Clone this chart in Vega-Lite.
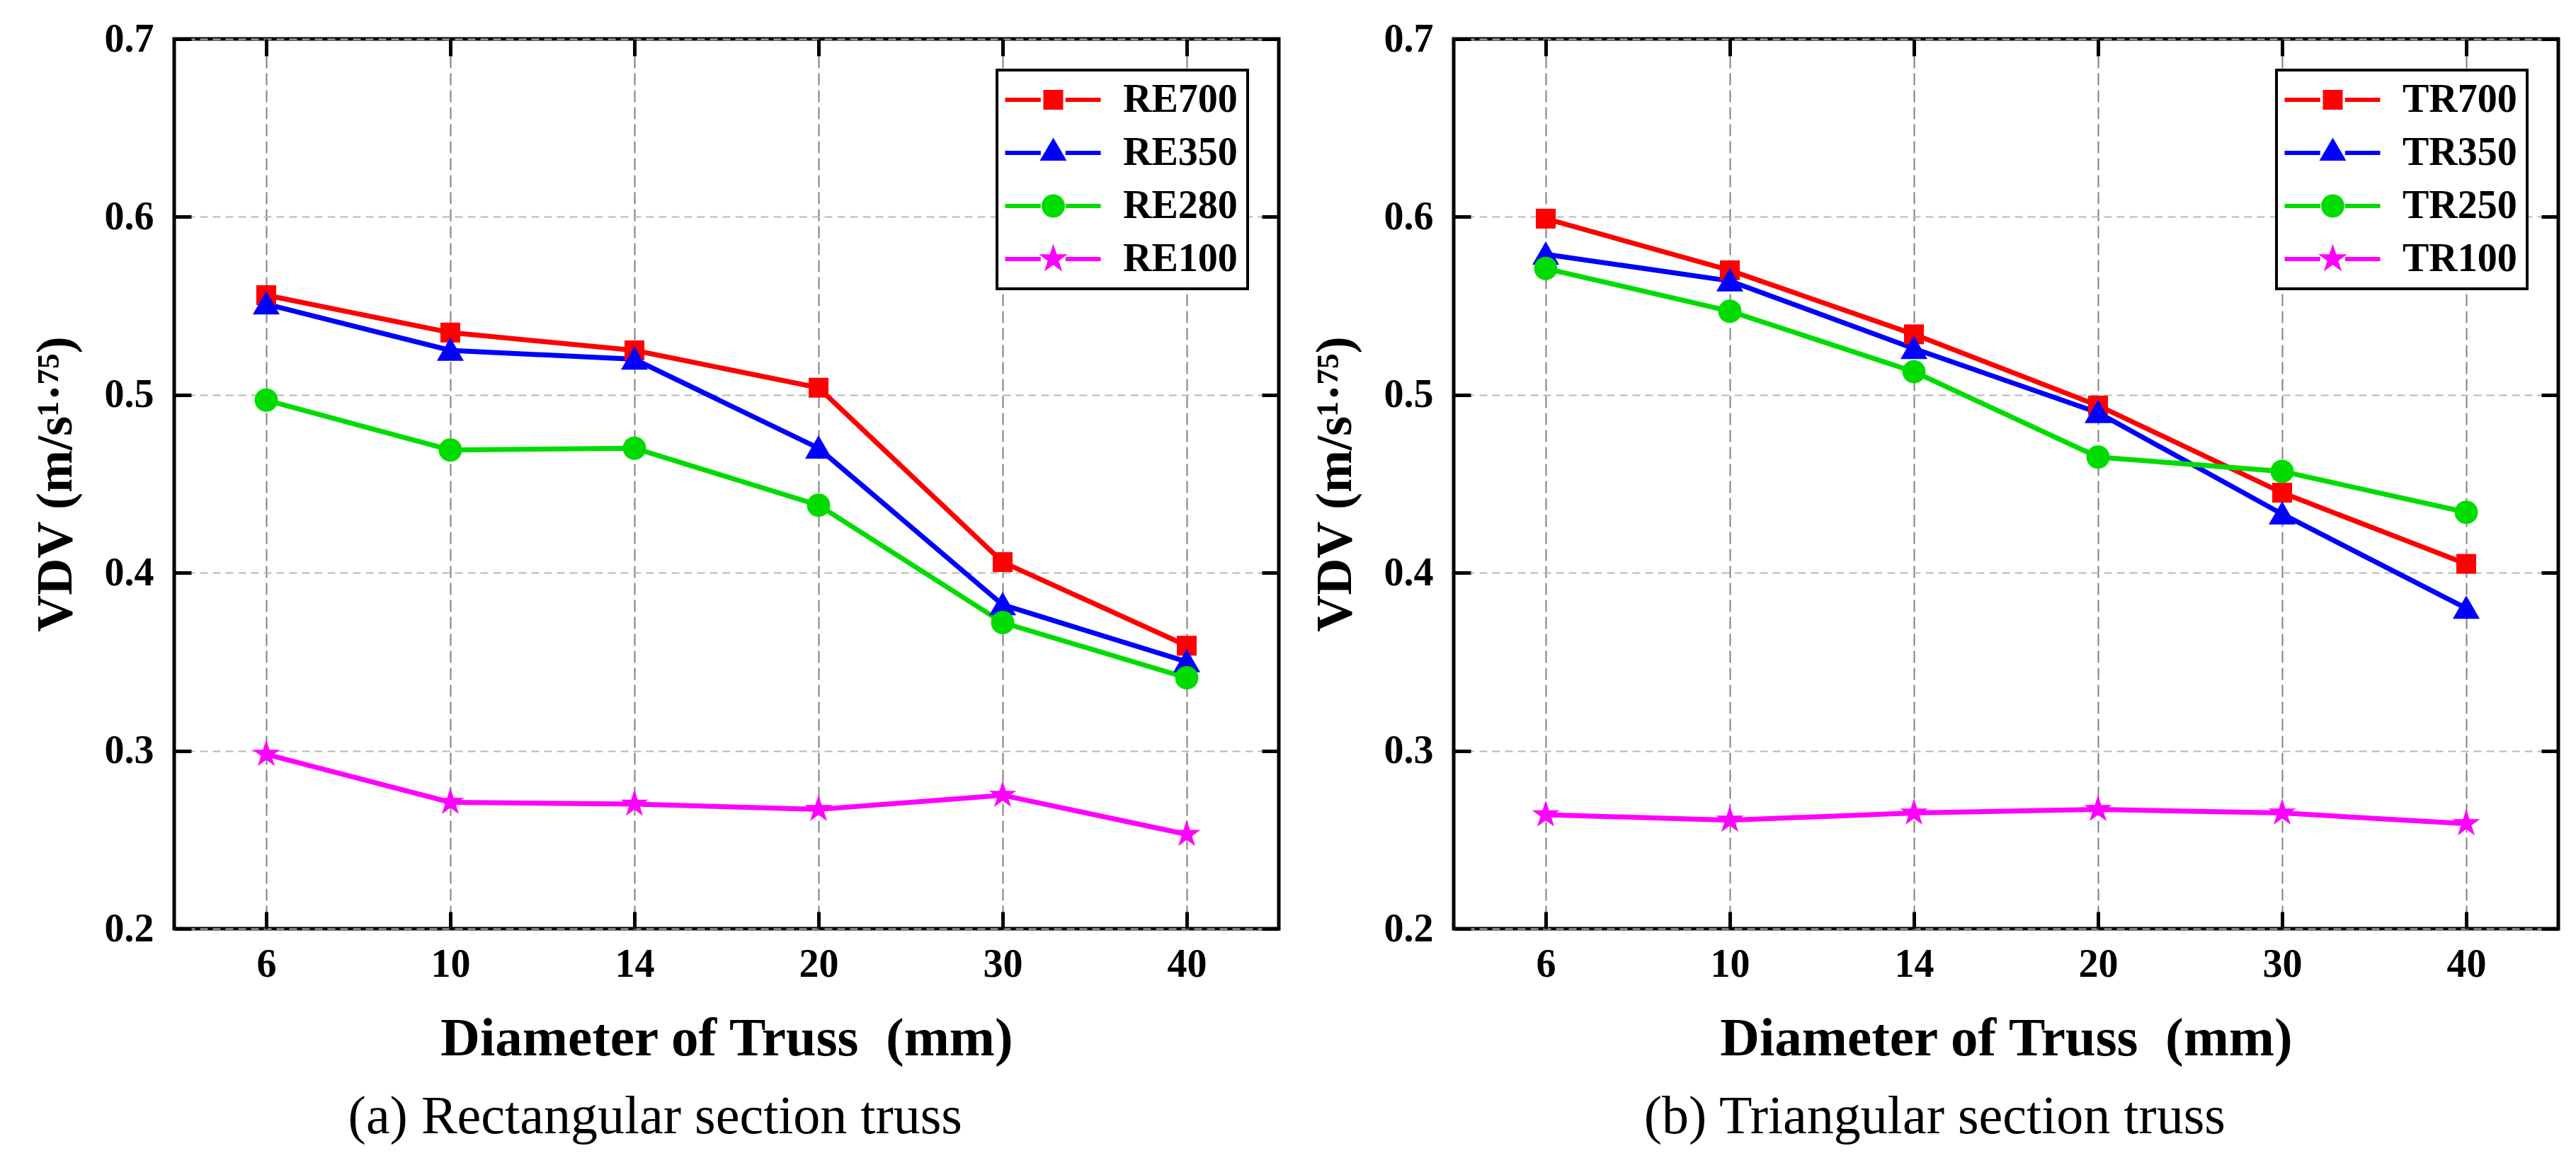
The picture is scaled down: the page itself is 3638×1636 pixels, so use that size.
{
  "$schema": "https://vega.github.io/schema/vega-lite/v6.json",
  "background": "white",
  "padding": {"left": 39, "top": 24, "right": 10, "bottom": 10},
  "spacing": 35,
  "resolve": {"scale": {"color": "independent", "shape": "independent"}, "legend": {"color": "independent", "shape": "independent"}},
  "config": {
    "font": "Liberation Serif",
    "view": {"stroke": "black", "strokeWidth": 5},
    "axis": {
      "domain": false,
      "ticks": true,
      "tickSize": -24,
      "tickWidth": 5,
      "tickColor": "black",
      "labelFont": "Liberation Serif",
      "labelFontSize": 56,
      "labelFontWeight": "bold",
      "labelColor": "black",
      "labelFlush": false,
      "labelOverlap": false,
      "labelBound": false,
      "titleFont": "Liberation Serif",
      "titleFontSize": 77,
      "titleFontWeight": "bold",
      "titleColor": "black"
    },
    "legend": {
      "title": null,
      "orient": "top-right",
      "offset": 44,
      "labelFont": "Liberation Serif",
      "labelFontSize": 56,
      "labelFontWeight": "bold",
      "labelColor": "black",
      "labelLimit": 400,
      "symbolSize": 2025,
      "labelOffset": 108,
      "padding": 14,
      "rowPadding": 19,
      "strokeColor": "black",
      "strokeWidth": 4,
      "fillColor": "white",
      "symbolStrokeWidth": 0,
      "symbolOpacity": 1
    },
    "title": {
      "font": "Liberation Serif",
      "fontSize": 76,
      "fontWeight": "normal",
      "color": "black",
      "orient": "bottom",
      "anchor": "middle",
      "frame": "bounds",
      "offset": 36
    }
  },
  "hconcat": [
    {
      "width": 1560,
      "height": 1257,
      "title": {"text": "(a) Rectangular section truss", "frame": "bounds"},
      "data": {"values": [
        {"d": 6, "v": 0.556, "s": "RE700"},
        {"d": 10, "v": 0.535, "s": "RE700"},
        {"d": 14, "v": 0.525, "s": "RE700"},
        {"d": 20, "v": 0.504, "s": "RE700"},
        {"d": 30, "v": 0.406, "s": "RE700"},
        {"d": 40, "v": 0.359, "s": "RE700"},
        {"d": 6, "v": 0.551, "s": "RE350"},
        {"d": 10, "v": 0.525, "s": "RE350"},
        {"d": 14, "v": 0.520, "s": "RE350"},
        {"d": 20, "v": 0.470, "s": "RE350"},
        {"d": 30, "v": 0.382, "s": "RE350"},
        {"d": 40, "v": 0.350, "s": "RE350"},
        {"d": 6, "v": 0.497, "s": "RE280"},
        {"d": 10, "v": 0.469, "s": "RE280"},
        {"d": 14, "v": 0.470, "s": "RE280"},
        {"d": 20, "v": 0.438, "s": "RE280"},
        {"d": 30, "v": 0.372, "s": "RE280"},
        {"d": 40, "v": 0.341, "s": "RE280"},
        {"d": 6, "v": 0.298, "s": "RE100"},
        {"d": 10, "v": 0.271, "s": "RE100"},
        {"d": 14, "v": 0.270, "s": "RE100"},
        {"d": 20, "v": 0.267, "s": "RE100"},
        {"d": 30, "v": 0.275, "s": "RE100"},
        {"d": 40, "v": 0.253, "s": "RE100"}
      ]},
      "layer": [
        {
          "mark": {"type": "line", "strokeWidth": 7},
          "encoding": {
            "x": {"field": "d", "type": "ordinal",
              "scale": {"type": "point", "padding": 0.5, "domain": [6, 10, 14, 20, 30, 40]},
              "axis": {"title": "Diameter of Truss \u00a0(mm)", "labelAngle": 0, "grid": true, "gridColor": "#808080", "gridDash": [17, 7], "gridWidth": 2, "labelPadding": 47, "titlePadding": 39}},
            "y": {"field": "v", "type": "quantitative",
              "scale": {"domain": [0.2, 0.7], "nice": false, "zero": false},
              "axis": {"title": "VDV (m/s¹·⁷⁵)", "titleFontSize": 72, "values": [0.2, 0.3, 0.4, 0.5, 0.6, 0.7], "format": ".1f", "grid": true, "gridColor": "#b8b8b8", "gridDash": [11, 7], "gridWidth": 2, "labelPadding": 53, "titlePadding": 32}},
            "color": {"field": "s", "type": "nominal",
              "scale": {"domain": ["RE700", "RE350", "RE280", "RE100"], "range": ["#ff0000", "#0000ff", "#00dc00", "#ff00ff"]}}
          }
        },
        {
          "mark": {"type": "point", "filled": true, "opacity": 1, "size": 1849},
          "encoding": {
            "x": {"field": "d", "type": "ordinal", "axis": null},
            "y": {"field": "v", "type": "quantitative", "axis": null},
            "color": {"field": "s", "type": "nominal",
              "legend": {"encode": {"symbols": {"update": {"shape": {"signal": "datum.index === 0 ? 'M-1.356,-0.133H0.88V0.133H-1.356ZM2.436,-0.133H4.644V0.133H2.436ZM1.045,-0.622H2.289V0.622H1.045Z' : datum.index === 1 ? 'M-1.356,-0.133H0.88V0.133H-1.356ZM2.436,-0.133H4.644V0.133H2.436ZM1.667,-0.96L2.511,0.49L0.823,0.49Z' : datum.index === 2 ? 'M-1.356,-0.133H0.88V0.133H-1.356ZM2.436,-0.133H4.644V0.133H2.436ZM0.934,0A0.733,0.733 0 1,0 2.4,0A0.733,0.733 0 1,0 0.934,0Z' : 'M-1.356,-0.133H0.88V0.133H-1.356ZM2.436,-0.133H4.644V0.133H2.436ZM1.667,-0.956L1.882,-0.295L2.576,-0.295L2.014,0.113L2.229,0.773L1.667,0.365L1.105,0.773L1.32,0.113L0.758,-0.295L1.452,-0.295Z'"}, "size": {"value": 2025}}}}}},
            "shape": {"field": "s", "type": "nominal", "legend": null,
              "scale": {"domain": ["RE100", "RE280", "RE350", "RE700"], "range": ["M0,-0.95L0.214,-0.294L0.903,-0.294L0.345,0.112L0.559,0.769L0,0.363L-0.559,0.769L-0.345,0.112L-0.903,-0.294L-0.214,-0.294Z", "M-0.767,0A0.767,0.767 0 1,0 0.767,0A0.767,0.767 0 1,0 -0.767,0Z", "M0,-0.85L0.884,0.685L-0.884,0.685Z", "M-0.651,-0.651H0.651V0.651H-0.651Z"]}}
          }
        },
        {
          "mark": {"type": "point", "opacity": 0},
          "encoding": {
            "x": {"field": "d", "type": "ordinal", "axis": {"orient": "top", "labels": false, "title": null, "grid": false}},
            "y": {"field": "v", "type": "quantitative", "axis": {"orient": "right", "labels": false, "title": null, "grid": false, "values": [0.2, 0.3, 0.4, 0.5, 0.6, 0.7]}}
          }
        }
      ],
      "resolve": {"axis": {"x": "independent", "y": "independent"}}
    },
    {
      "width": 1560,
      "height": 1257,
      "title": {"text": "(b) Triangular section truss", "frame": "bounds"},
      "data": {"values": [
        {"d": 6, "v": 0.599, "s": "TR700"},
        {"d": 10, "v": 0.570, "s": "TR700"},
        {"d": 14, "v": 0.534, "s": "TR700"},
        {"d": 20, "v": 0.494, "s": "TR700"},
        {"d": 30, "v": 0.445, "s": "TR700"},
        {"d": 40, "v": 0.405, "s": "TR700"},
        {"d": 6, "v": 0.579, "s": "TR350"},
        {"d": 10, "v": 0.564, "s": "TR350"},
        {"d": 14, "v": 0.526, "s": "TR350"},
        {"d": 20, "v": 0.490, "s": "TR350"},
        {"d": 30, "v": 0.433, "s": "TR350"},
        {"d": 40, "v": 0.380, "s": "TR350"},
        {"d": 6, "v": 0.571, "s": "TR250"},
        {"d": 10, "v": 0.547, "s": "TR250"},
        {"d": 14, "v": 0.513, "s": "TR250"},
        {"d": 20, "v": 0.465, "s": "TR250"},
        {"d": 30, "v": 0.457, "s": "TR250"},
        {"d": 40, "v": 0.434, "s": "TR250"},
        {"d": 6, "v": 0.264, "s": "TR100"},
        {"d": 10, "v": 0.261, "s": "TR100"},
        {"d": 14, "v": 0.265, "s": "TR100"},
        {"d": 20, "v": 0.267, "s": "TR100"},
        {"d": 30, "v": 0.265, "s": "TR100"},
        {"d": 40, "v": 0.259, "s": "TR100"}
      ]},
      "layer": [
        {
          "mark": {"type": "line", "strokeWidth": 7},
          "encoding": {
            "x": {"field": "d", "type": "ordinal",
              "scale": {"type": "point", "padding": 0.5, "domain": [6, 10, 14, 20, 30, 40]},
              "axis": {"title": "Diameter of Truss \u00a0(mm)", "labelAngle": 0, "grid": true, "gridColor": "#808080", "gridDash": [17, 7], "gridWidth": 2, "labelPadding": 47, "titlePadding": 39}},
            "y": {"field": "v", "type": "quantitative",
              "scale": {"domain": [0.2, 0.7], "nice": false, "zero": false},
              "axis": {"title": "VDV (m/s¹·⁷⁵)", "titleFontSize": 72, "values": [0.2, 0.3, 0.4, 0.5, 0.6, 0.7], "format": ".1f", "grid": true, "gridColor": "#b8b8b8", "gridDash": [11, 7], "gridWidth": 2, "labelPadding": 53, "titlePadding": 32}},
            "color": {"field": "s", "type": "nominal",
              "scale": {"domain": ["TR700", "TR350", "TR250", "TR100"], "range": ["#ff0000", "#0000ff", "#00dc00", "#ff00ff"]}}
          }
        },
        {
          "mark": {"type": "point", "filled": true, "opacity": 1, "size": 1849},
          "encoding": {
            "x": {"field": "d", "type": "ordinal", "axis": null},
            "y": {"field": "v", "type": "quantitative", "axis": null},
            "color": {"field": "s", "type": "nominal",
              "legend": {"encode": {"symbols": {"update": {"shape": {"signal": "datum.index === 0 ? 'M-1.356,-0.133H0.88V0.133H-1.356ZM2.436,-0.133H4.644V0.133H2.436ZM1.045,-0.622H2.289V0.622H1.045Z' : datum.index === 1 ? 'M-1.356,-0.133H0.88V0.133H-1.356ZM2.436,-0.133H4.644V0.133H2.436ZM1.667,-0.96L2.511,0.49L0.823,0.49Z' : datum.index === 2 ? 'M-1.356,-0.133H0.88V0.133H-1.356ZM2.436,-0.133H4.644V0.133H2.436ZM0.934,0A0.733,0.733 0 1,0 2.4,0A0.733,0.733 0 1,0 0.934,0Z' : 'M-1.356,-0.133H0.88V0.133H-1.356ZM2.436,-0.133H4.644V0.133H2.436ZM1.667,-0.956L1.882,-0.295L2.576,-0.295L2.014,0.113L2.229,0.773L1.667,0.365L1.105,0.773L1.32,0.113L0.758,-0.295L1.452,-0.295Z'"}, "size": {"value": 2025}}}}}},
            "shape": {"field": "s", "type": "nominal", "legend": null,
              "scale": {"domain": ["TR100", "TR250", "TR350", "TR700"], "range": ["M0,-0.95L0.214,-0.294L0.903,-0.294L0.345,0.112L0.559,0.769L0,0.363L-0.559,0.769L-0.345,0.112L-0.903,-0.294L-0.214,-0.294Z", "M-0.767,0A0.767,0.767 0 1,0 0.767,0A0.767,0.767 0 1,0 -0.767,0Z", "M0,-0.85L0.884,0.685L-0.884,0.685Z", "M-0.651,-0.651H0.651V0.651H-0.651Z"]}}
          }
        },
        {
          "mark": {"type": "point", "opacity": 0},
          "encoding": {
            "x": {"field": "d", "type": "ordinal", "axis": {"orient": "top", "labels": false, "title": null, "grid": false}},
            "y": {"field": "v", "type": "quantitative", "axis": {"orient": "right", "labels": false, "title": null, "grid": false, "values": [0.2, 0.3, 0.4, 0.5, 0.6, 0.7]}}
          }
        }
      ],
      "resolve": {"axis": {"x": "independent", "y": "independent"}}
    }
  ]
}
